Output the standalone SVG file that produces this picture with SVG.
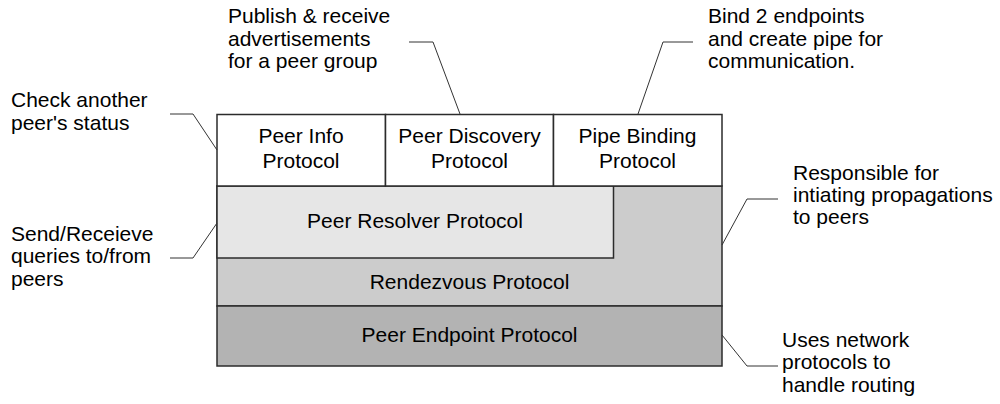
<svg xmlns="http://www.w3.org/2000/svg" width="1000" height="404" viewBox="0 0 1000 404">
  <style>
    text { font-family: "Liberation Sans", Arial, sans-serif; font-size: 21px; fill: #000; }
    .c { text-anchor: middle; }
    .box { stroke: #2b2b2b; stroke-width: 1.5; }
    .lead { fill: none; stroke: #333; stroke-width: 1; }
  </style>
  <rect width="1000" height="404" fill="#fff"/>

  <!-- Rendezvous layer: L-shaped, wraps the resolver -->
  <g id="rendezvous">
    <rect class="box" x="217" y="186" width="505" height="120" fill="#cccccc"/>
    <text class="c" x="469.5" y="289">Rendezvous Protocol</text>
  </g>

  <g id="resolver">
    <rect class="box" x="217" y="186" width="396.5" height="72" fill="#e6e6e6"/>
    <text class="c" x="415" y="228">Peer Resolver Protocol</text>
  </g>

  <g id="endpoint">
    <rect class="box" x="217" y="306" width="505" height="60" fill="#b3b3b3"/>
    <text class="c" x="469.5" y="342">Peer Endpoint Protocol</text>
  </g>

  <g id="peer-info">
    <rect class="box" x="217" y="114.5" width="168.5" height="71.5" fill="#fff"/>
    <text class="c" x="301" y="143">Peer Info</text>
    <text class="c" x="301" y="168">Protocol</text>
  </g>

  <g id="peer-discovery">
    <rect class="box" x="385.5" y="114.5" width="168" height="71.5" fill="#fff"/>
    <text class="c" x="469.5" y="143">Peer Discovery</text>
    <text class="c" x="469.5" y="168">Protocol</text>
  </g>

  <g id="pipe-binding">
    <rect class="box" x="553.5" y="114.5" width="168.5" height="71.5" fill="#fff"/>
    <text class="c" x="637.5" y="143">Pipe Binding</text>
    <text class="c" x="637.5" y="168">Protocol</text>
  </g>

  <!-- Callout leaders -->
  <g id="connectors">
    <polyline class="lead" points="170,114 193,114 217,150"/>
    <polyline class="lead" points="409,42 433,42 460,114"/>
    <polyline class="lead" points="693,42 663,42 638,114"/>
    <polyline class="lead" points="170,258 193,258 217,223"/>
    <polyline class="lead" points="778,199 747,199 722,245"/>
    <polyline class="lead" points="722,335 747,366 778,366"/>
  </g>

  <!-- Callout notes -->
  <g id="note-info">
    <text x="11" y="107">Check another</text>
    <text x="11" y="130">peer's status</text>
  </g>
  <g id="note-discovery">
    <text x="228" y="23">Publish &amp; receive</text>
    <text x="228" y="46">advertisements</text>
    <text x="228" y="68">for a peer group</text>
  </g>
  <g id="note-pipe">
    <text x="708" y="23">Bind 2 endpoints</text>
    <text x="708" y="46">and create pipe for</text>
    <text x="708" y="68">communication.</text>
  </g>
  <g id="note-resolver">
    <text x="11" y="241">Send/Receieve</text>
    <text x="11" y="263">queries to/from</text>
    <text x="11" y="286">peers</text>
  </g>
  <g id="note-rendezvous">
    <text x="793" y="180">Responsible for</text>
    <text x="793" y="202">intiating propagations</text>
    <text x="793" y="224">to peers</text>
  </g>
  <g id="note-endpoint">
    <text x="782" y="347">Uses network</text>
    <text x="782" y="369">protocols to</text>
    <text x="782" y="392">handle routing</text>
  </g>
</svg>
